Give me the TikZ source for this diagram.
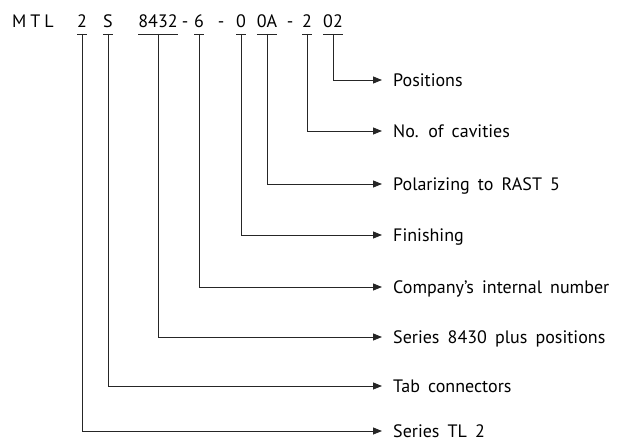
\documentclass[tikz,border=0pt]{standalone}
\usepackage{fontspec}
\setmainfont[WordSpace=1.7]{PT Sans}
\usetikzlibrary{arrows.meta, positioning}

\begin{document}
\begin{tikzpicture}[
    x=1pt, y=-1pt,
    code/.style={inner sep=0pt, outer sep=0pt, text depth=0pt, anchor=base, font=\fontsize{18}{21}\selectfont},
    lbl/.style={anchor=west, inner sep=0pt, text height=12.5pt, text depth=0pt, font=\fontsize{18}{21}\selectfont},
    uline/.style={line width=0.8pt, black!85},
    lead/.style={line width=0.8pt, black!85, -{Triangle[length=9pt,width=7pt]}, shorten >=11pt}
]
    \useasboundingbox (0,0) rectangle (634,441);
    % type code
    \node[code] (mtl) at (33,28) {M\hspace{4pt}T\hspace{4pt}L};
    \node[code] (c2) at (82,28) {2};
    \node[code] (cS) at (108,28) {S};
    \node[code] (c8432) at (158,28) {8432};
    \node[code] (d1) at (185,28) {-};
    \node[code] (c6) at (199,28) {6};
    \node[code] (d2) at (221,28) {-};
    \node[code] (c0) at (241,28) {0};
    \node[code] (c0A) at (267,28) {0A};
    \node[code] (d3) at (290,28) {-};
    \node[code] (c2b) at (307,28) {2};
    \node[code] (c02) at (333,28) {02};
    % underlines
    \draw[uline] ([yshift=-6pt]c2.south west) -- ([yshift=-6pt]c2.south east);
    \draw[uline] ([yshift=-6pt]cS.south west) -- ([yshift=-6pt]cS.south east);
    \draw[uline] ([yshift=-6pt]c8432.south west) -- ([yshift=-6pt]c8432.south east);
    \draw[uline] ([yshift=-6pt]c6.south west) -- ([yshift=-6pt]c6.south east);
    \draw[uline] ([yshift=-6pt]c0.south west) -- ([yshift=-6pt]c0.south east);
    \draw[uline] ([yshift=-6pt]c0A.south west) -- ([yshift=-6pt]c0A.south east);
    \draw[uline] ([yshift=-6pt]c2b.south west) -- ([yshift=-6pt]c2b.south east);
    \draw[uline] ([yshift=-6pt]c02.south west) -- ([yshift=-6pt]c02.south east);
    % meanings
    \node[lbl] (l02) at (393,80) {Positions};
    \node[lbl] (l2b) at (393,131) {No. of cavities};
    \node[lbl] (l0A) at (393,184) {Polarizing to RAST 5};
    \node[lbl] (l0) at (393,235) {Finishing};
    \node[lbl] (l6) at (393,287) {Company’s internal number};
    \node[lbl] (l8432) at (393,337) {Series 8430 plus positions};
    \node[lbl] (lS) at (393,386) {Tab connectors};
    \node[lbl] (l2) at (393,431) {Series TL 2};
    % leaders
    \draw[lead] ([yshift=-6pt]c02.south) |- (l02.west);
    \draw[lead] ([yshift=-6pt]c2b.south) |- (l2b.west);
    \draw[lead] ([yshift=-6pt]c0A.south) |- (l0A.west);
    \draw[lead] ([yshift=-6pt]c0.south) |- (l0.west);
    \draw[lead] ([yshift=-6pt]c6.south) |- (l6.west);
    \draw[lead] ([yshift=-6pt]c8432.south) |- (l8432.west);
    \draw[lead] ([yshift=-6pt]cS.south) |- (lS.west);
    \draw[lead] ([yshift=-6pt]c2.south) |- (l2.west);
\end{tikzpicture}
\end{document}
